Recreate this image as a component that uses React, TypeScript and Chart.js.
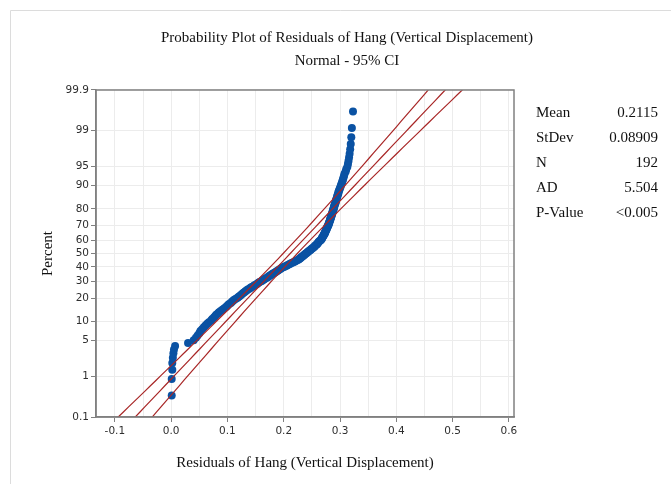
import React, { useEffect, useRef } from "react";
import { Chart, registerables } from "chart.js";

Chart.register(...registerables);

const titleLine1 = "Probability Plot of Residuals of Hang (Vertical Displacement)";
const titleLine2 = "Normal - 95% CI";
const xTitle = "Residuals of Hang (Vertical Displacement)";
const yTitle = "Percent";

const percentTicks = [0.1, 1, 5, 10, 20, 30, 40, 50, 60, 70, 80, 90, 95, 99, 99.9];
const percentLabels = ["0.1", "1", "5", "10", "20", "30", "40", "50", "60", "70", "80", "90", "95", "99", "99.9"];
const xTickValues = [-0.1, -0.05, 0, 0.05, 0.1, 0.15, 0.2, 0.25, 0.3, 0.35, 0.4, 0.45, 0.5, 0.55, 0.6];

const statLabels = ["Mean", "StDev", "N", "AD", "P-Value"];
const statValues = ["0.2115", "0.08909", "192", "5.504", "<0.005"];
const mean = 0.2115;
const stDev = 0.08909;
const nObs = 192;

// sorted residuals
const residuals = [
  0.001, 0.001, 0.002, 0.002, 0.003, 0.004, 0.005, 0.007,
  0.030, 0.040, 0.044, 0.047, 0.050, 0.052, 0.055, 0.058, 0.061, 0.064, 0.067, 0.071,
  0.073, 0.076, 0.078, 0.080, 0.083, 0.085, 0.088, 0.091, 0.094,
  0.097, 0.099, 0.101, 0.103, 0.106, 0.108, 0.110, 0.112, 0.115, 0.118,
  0.120, 0.122, 0.124, 0.126, 0.128, 0.130, 0.132, 0.134, 0.136,
  0.139, 0.141, 0.143, 0.146, 0.148, 0.151, 0.153, 0.155, 0.157, 0.160,
  0.162, 0.164, 0.166, 0.168, 0.171, 0.173, 0.175, 0.177, 0.179, 0.181,
  0.183, 0.185, 0.187, 0.189, 0.191, 0.193, 0.195, 0.197, 0.200,
  0.202, 0.205, 0.207, 0.210, 0.212, 0.215, 0.217, 0.220, 0.222, 0.225,
  0.227, 0.228, 0.230, 0.231, 0.233, 0.234, 0.236, 0.237, 0.239, 0.240,
  0.242, 0.243, 0.245, 0.246, 0.248, 0.249, 0.251, 0.252, 0.254,
  0.255, 0.256, 0.258, 0.259, 0.260, 0.261, 0.262, 0.263, 0.265, 0.266,
  0.267, 0.268, 0.268, 0.269, 0.270, 0.271, 0.271, 0.272, 0.273,
  0.273, 0.274, 0.274, 0.275, 0.276, 0.276, 0.277, 0.277, 0.278, 0.279,
  0.279, 0.280, 0.280, 0.281, 0.281, 0.282, 0.282, 0.283, 0.283, 0.284,
  0.284, 0.285, 0.285, 0.286, 0.286, 0.287, 0.287, 0.288, 0.288,
  0.289, 0.289, 0.290, 0.290, 0.291, 0.292, 0.292, 0.293, 0.293, 0.294,
  0.295, 0.295, 0.296, 0.297, 0.297, 0.298, 0.299, 0.300, 0.301,
  0.302, 0.303, 0.304, 0.305, 0.306, 0.307,
  0.308, 0.310, 0.311, 0.313,
  0.314, 0.315, 0.316, 0.317,
  0.318, 0.319, 0.320,
  0.321, 0.323,
];

function probit(p: number): number {
  const a = [-3.969683028665376e1, 2.209460984245205e2, -2.759285104469687e2, 1.38357751867269e2, -3.066479806614716e1, 2.506628277459239];
  const b = [-5.447609879822406e1, 1.615858368580409e2, -1.556989798598866e2, 6.680131188771972e1, -1.328068155288572e1];
  const c = [-7.784894002430293e-3, -3.223964580411365e-1, -2.400758277161838, -2.549732539343734, 4.374664141464968, 2.938163982698783];
  const d = [7.784695709041462e-3, 3.224671290700398e-1, 2.445134137142996, 3.754408661907416];
  const pl = 0.02425;
  if (p < pl) {
    const q = Math.sqrt(-2 * Math.log(p));
    return (((((c[0] * q + c[1]) * q + c[2]) * q + c[3]) * q + c[4]) * q + c[5]) / ((((d[0] * q + d[1]) * q + d[2]) * q + d[3]) * q + 1);
  }
  if (p <= 1 - pl) {
    const q = p - 0.5;
    const r = q * q;
    return ((((((a[0] * r + a[1]) * r + a[2]) * r + a[3]) * r + a[4]) * r + a[5]) * q) / (((((b[0] * r + b[1]) * r + b[2]) * r + b[3]) * r + b[4]) * r + 1);
  }
  const q = Math.sqrt(-2 * Math.log(1 - p));
  return -(((((c[0] * q + c[1]) * q + c[2]) * q + c[3]) * q + c[4]) * q + c[5]) / ((((d[0] * q + d[1]) * q + d[2]) * q + d[3]) * q + 1);
}

const Z_MAX = probit(0.999);

export default function App() {
  const ref = useRef<HTMLCanvasElement | null>(null);

  useEffect(() => {
    if (!ref.current) return;
    const n = residuals.length;
    const pts = residuals.map((r, i) => ({ x: r, y: probit((i + 1 - 0.3) / (n + 0.4)) }));
    const fit: { x: number; y: number }[] = [];
    const lo: { x: number; y: number }[] = [];
    const hi: { x: number; y: number }[] = [];
    for (let k = -34; k <= 34; k++) {
      const z = k / 10;
      const xf = mean + stDev * z;
      const hw = 1.96 * stDev * Math.sqrt((1 + (z * z) / 2) / nObs);
      fit.push({ x: xf, y: z });
      lo.push({ x: xf - hw, y: z });
      hi.push({ x: xf + hw, y: z });
    }
    const red = "#a82626";
    const lineDs = (data: any) => ({
      data,
      showLine: true,
      borderColor: red,
      borderWidth: 1.2,
      pointRadius: 0,
      order: 0,
    });

    const decor = {
      id: "decor",
      beforeDraw(chart: any) {
        const ctx = chart.ctx;
        ctx.save();
        ctx.fillStyle = "#ffffff";
        ctx.fillRect(0, 0, chart.width, chart.height);
        ctx.strokeStyle = "#dcdcdc";
        ctx.lineWidth = 1;
        ctx.beginPath();
        ctx.moveTo(10.5, chart.height);
        ctx.lineTo(10.5, 10.5);
        ctx.lineTo(chart.width, 10.5);
        ctx.stroke();
        ctx.restore();
      },
      afterDraw(chart: any) {
        const ctx = chart.ctx;
        const ca = chart.chartArea;
        ctx.save();
        ctx.strokeStyle = "#808080";
        ctx.lineWidth = 1.5;
        ctx.strokeRect(ca.left, ca.top, ca.right - ca.left, ca.bottom - ca.top);
        ctx.fillStyle = "#111111";
        ctx.textBaseline = "middle";
        ctx.font = '15px "Liberation Serif", "Times New Roman", serif';
        ctx.textAlign = "center";
        ctx.fillText(titleLine1, 347, 38);
        ctx.fillText(titleLine2, 347, 61);
        ctx.fillText(xTitle, (ca.left + ca.right) / 2, 463);
        ctx.save();
        ctx.translate(48, (ca.top + ca.bottom) / 2);
        ctx.rotate(-Math.PI / 2);
        ctx.fillText(yTitle, 0, 0);
        ctx.restore();
        statLabels.forEach((lab, i) => {
          const y = 113 + i * 25;
          ctx.textAlign = "left";
          ctx.fillText(lab, 536, y);
          ctx.textAlign = "right";
          ctx.fillText(statValues[i], 658, y);
        });
        ctx.restore();
      },
    };

    const tickFont = { family: '"DejaVu Sans", sans-serif', size: 10.5 };
    const chart = new Chart(ref.current, {
      type: "scatter",
      data: {
        datasets: [
          lineDs(lo),
          lineDs(fit),
          lineDs(hi),
          {
            data: pts,
            pointRadius: 4,
            pointBackgroundColor: "#0a52a3",
            pointBorderWidth: 0,
            showLine: false,
            order: 1,
          } as any,
        ],
      },
      options: {
        animation: false,
        responsive: false,
        layout: { padding: { left: 0, top: 90, right: 157, bottom: 0 } },
        plugins: { legend: { display: false }, tooltip: { enabled: false }, title: { display: false } },
        scales: {
          x: {
            type: "linear",
            min: -0.1335,
            max: 0.609,
            afterFit: (s: any) => {
              s.height = 67;
            },
            afterBuildTicks: (s: any) => {
              s.ticks = xTickValues.map((v) => ({ value: v }));
            },
            ticks: {
              autoSkip: false,
              maxRotation: 0,
              padding: 3,
              color: "#2e2e2e",
              font: tickFont,
              callback: (v: any, i: number) => (i % 2 === 0 ? Number(v).toFixed(1) : ""),
            },
            grid: {
              color: "#ececec",
              lineWidth: 1,
              tickLength: 5,
              tickColor: (c: any) => (c.index % 2 === 0 ? "#808080" : "rgba(0,0,0,0)"),
            },
            border: { display: true, color: "#808080", width: 1.5 },
          },
          y: {
            type: "linear",
            min: -Z_MAX,
            max: Z_MAX,
            afterFit: (s: any) => {
              s.width = 96;
            },
            afterBuildTicks: (s: any) => {
              s.ticks = percentTicks.map((p) => ({ value: probit(p / 100) }));
            },
            ticks: {
              autoSkip: false,
              padding: 2,
              color: "#2e2e2e",
              font: tickFont,
              callback: (_v: any, i: number) => percentLabels[i],
            },
            grid: { color: "#ececec", lineWidth: 1, tickLength: 5, tickColor: "#808080" },
            border: { display: true, color: "#808080", width: 1.5 },
          },
        },
      },
      plugins: [decor],
    } as any);
    return () => chart.destroy();
  }, []);

  return (
    <div style={{ position: "fixed", left: 0, top: 0, width: 671, height: 484, background: "#fff" }}>
      <canvas ref={ref} width={671} height={484} style={{ display: "block", width: 671, height: 484 }} />
    </div>
  );
}
